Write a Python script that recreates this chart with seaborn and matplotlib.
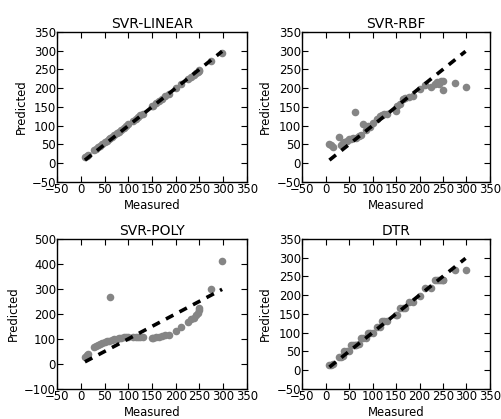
import numpy as np
import pandas as pd
import matplotlib
matplotlib.use('Agg')
import matplotlib.pyplot as plt
import seaborn as sns

# measured test values (shared by every model)
measured = [8, 12, 15, 28, 32, 36, 40, 45, 50, 55, 58, 62, 65, 70, 75, 80, 85, 90,
            95, 100, 110, 115, 120, 125, 130, 150, 152, 158, 165, 170, 178, 185,
            200, 212, 225, 232, 238, 242, 246, 249, 250, 275, 298]

pred_linear = [15, 19, 21, 34, 38, 42, 45, 50, 55, 60, 63, 66, 69, 74, 79, 84, 89, 93,
               98, 103, 113, 117, 122, 127, 132, 151, 153, 159, 165, 170, 178, 184,
               199, 210, 223, 230, 235, 239, 243, 246, 247, 271, 294]

pred_rbf = [52, 47, 43, 70, 47, 54, 55, 60, 63, 65, 67, 135, 68, 72, 75, 105, 88, 100,
            95, 108, 118, 125, 128, 132, 130, 140, 153, 158, 170, 173, 176, 180,
            198, 207, 204, 211, 216, 210, 220, 195, 219, 214, 202]

pred_poly = [28, 35, 40, 68, 73, 76, 80, 83, 88, 91, 93, 268, 96, 99, 101, 103, 105, 106,
             107, 108, 108, 108, 107, 107, 106, 104, 104, 107, 108, 112, 115, 117,
             132, 148, 168, 178, 185, 195, 205, 215, 225, 301, 410]

pred_dtr = [13, 13, 15, 35, 35, 38, 50, 50, 50, 68, 68, 68, 68, 70, 85, 85, 85, 100,
            100, 100, 116, 116, 132, 132, 132, 148, 148, 165, 165, 165, 182, 182,
            198, 220, 220, 240, 240, 240, 240, 240, 240, 266, 267]

titles = ['SVR-LINEAR', 'SVR-RBF', 'SVR-POLY', 'DTR']
preds = [pred_linear, pred_rbf, pred_poly, pred_dtr]
ylims = [(-50, 350), (-50, 350), (-100, 500), (-50, 350)]

sns.set_style('ticks', {
    'xtick.direction': 'in',
    'ytick.direction': 'in',
    'xtick.top': True,
    'ytick.right': True,
    'axes.edgecolor': 'black',
    'xtick.color': 'black',
    'ytick.color': 'black',
    'axes.labelcolor': 'black',
    'text.color': 'black',
})
plt.rcParams['font.family'] = ['DejaVu Sans']
plt.rcParams['lines.scale_dashes'] = False

fig = plt.figure(figsize=(5.02, 4.19), dpi=100)

# axes boxes in figure fractions [left, bottom, width, height]
boxes = [
    [0.1145, 0.566, 0.377, 0.358],
    [0.602, 0.566, 0.374, 0.358],
    [0.1145, 0.072, 0.377, 0.358],
    [0.602, 0.072, 0.374, 0.358],
]

for title, p, yl, box in zip(titles, preds, ylims, boxes):
    ax = fig.add_axes(box)
    df = pd.DataFrame({'Measured': measured, 'Predicted': p})
    sns.scatterplot(data=df, x='Measured', y='Predicted', ax=ax,
                    color='#858585', s=30, linewidth=0, zorder=2)
    lo, hi = min(measured), max(measured)
    ax.plot([lo, hi], [lo, hi], color='black', lw=2.6, dashes=(6, 5), zorder=3)
    ax.set_xlim(-50, 350)
    ax.set_ylim(*yl)
    ax.set_xticks(np.arange(-50, 351, 50))
    ax.set_yticks(np.arange(yl[0], yl[1] + 1, 50 if yl[1] == 350 else 100))
    ax.tick_params(labelsize=8.4, length=4, width=0.8, pad=1)
    ax.set_title(title, fontsize=10, pad=3)
    ax.set_xlabel('Measured', fontsize=8.4, labelpad=2)
    ax.set_ylabel('Predicted', fontsize=8.4, labelpad=3)
    for s in ax.spines.values():
        s.set_linewidth(1.0)

fig.savefig('out.png', dpi=100, facecolor='white')
